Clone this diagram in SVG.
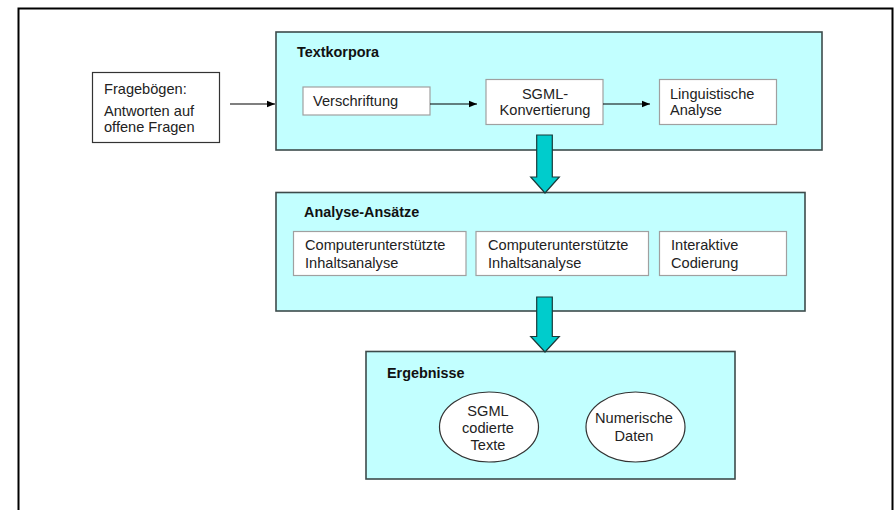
<svg xmlns="http://www.w3.org/2000/svg" width="894" height="510" viewBox="0 0 894 510">
<defs>
<style>
.t{font-family:"Liberation Sans",Arial,sans-serif;font-size:14.6px;fill:#222}
.b{font-family:"Liberation Sans",Arial,sans-serif;font-size:14.4px;font-weight:bold;fill:#111}
.grp{fill:#C2FFFF;stroke:#3d4b4b;stroke-width:1.6}
.in{fill:#fff;stroke:#a0a0a0;stroke-width:1.2}
.ell{fill:#fff;stroke:#333;stroke-width:1.2}
.big{fill:#00CCCC;stroke:#1a3a3a;stroke-width:1.2}
.ln{stroke:#000;stroke-width:1.2;fill:none}
</style>
<marker id="ah" viewBox="0 0 10 10" refX="10" refY="5" markerWidth="8" markerHeight="8" markerUnits="userSpaceOnUse" orient="auto">
<path d="M0,1 L10,5 L0,9 z" fill="#000"/>
</marker>
</defs>
<rect width="894" height="510" fill="#fff"/>
<rect x="18.5" y="8.5" width="874" height="520" fill="none" stroke="#000" stroke-width="2"/>

<g id="frageboegen">
<rect x="92.5" y="72.5" width="127" height="70" fill="#fff" stroke="#333" stroke-width="1.2"/>
<text class="t" x="104" y="94">Fragebögen:</text>
<text class="t" x="104" y="116">Antworten auf</text>
<text class="t" x="104" y="132">offene Fragen</text>
</g>

<g id="textkorpora">
<rect class="grp" x="276" y="32" width="546" height="118"/>
<text class="b" x="297" y="57">Textkorpora</text>
</g>
<g id="verschriftung">
<rect class="in" x="303" y="87" width="127" height="28"/>
<text class="t" x="313" y="106">Verschriftung</text>
</g>
<g id="sgml-konvertierung">
<rect class="in" x="486" y="79.5" width="117" height="45"/>
<text class="t" x="545" y="99" text-anchor="middle">SGML-</text>
<text class="t" x="545" y="115" text-anchor="middle">Konvertierung</text>
</g>
<g id="linguistische-analyse">
<rect class="in" x="659.5" y="79.5" width="117" height="45"/>
<text class="t" x="670" y="99">Linguistische</text>
<text class="t" x="670" y="115">Analyse</text>
</g>

<g id="analyse-ansaetze">
<rect class="grp" x="276" y="192.5" width="529" height="118.5"/>
<text class="b" x="304" y="217">Analyse-Ansätze</text>
</g>
<g id="cia1">
<rect class="in" x="293.5" y="231.5" width="172.5" height="44"/>
<text class="t" x="305" y="250">Computerunterstützte</text>
<text class="t" x="305" y="268">Inhaltsanalyse</text>
</g>
<g id="cia2">
<rect class="in" x="476" y="231.5" width="172.5" height="44"/>
<text class="t" x="488" y="250">Computerunterstützte</text>
<text class="t" x="488" y="268">Inhaltsanalyse</text>
</g>
<g id="interaktive-codierung">
<rect class="in" x="659.5" y="231.5" width="127" height="44"/>
<text class="t" x="671" y="250">Interaktive</text>
<text class="t" x="671" y="268">Codierung</text>
</g>

<g id="ergebnisse">
<rect class="grp" x="366" y="351.5" width="369" height="127.5"/>
<text class="b" x="387" y="378">Ergebnisse</text>
</g>
<g id="sgml-texte">
<ellipse class="ell" cx="489" cy="427" rx="49.5" ry="35"/>
<text class="t" x="488" y="416" text-anchor="middle">SGML</text>
<text class="t" x="488" y="433" text-anchor="middle">codierte</text>
<text class="t" x="488" y="450" text-anchor="middle">Texte</text>
</g>
<g id="numerische-daten">
<ellipse class="ell" cx="635.5" cy="427" rx="49.5" ry="35"/>
<text class="t" x="634" y="423" text-anchor="middle">Numerische</text>
<text class="t" x="634" y="441" text-anchor="middle">Daten</text>
</g>

<g id="connectors">
<line class="ln" x1="230" y1="104" x2="275" y2="104" marker-end="url(#ah)"/>
<line class="ln" x1="430" y1="104" x2="477" y2="104" marker-end="url(#ah)"/>
<line class="ln" x1="603" y1="104" x2="650" y2="104" marker-end="url(#ah)"/>
<path class="big" d="M536.7,135 H552.3 V177 H559.3 L545,193 L530.7,177 H536.7 Z"/>
<path class="big" d="M536.7,297 H552.3 V336.5 H559.3 L545,352 L530.7,336.5 H536.7 Z"/>
</g>
</svg>
